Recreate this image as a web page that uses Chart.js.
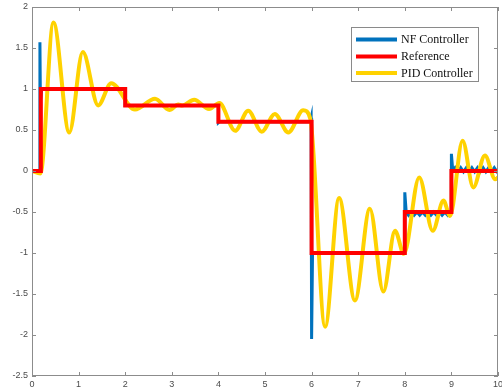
<!DOCTYPE html>
<html>
<head>
<meta charset="utf-8">
<script src="https://cdn.jsdelivr.net/npm/chart.js@4/dist/chart.umd.min.js"></script>
<style>
  html, body { margin: 0; padding: 0; background: #ffffff; }
  #wrap { width: 502px; height: 392px; position: relative; }
</style>
</head>
<body>
<div id="wrap"><canvas id="c" width="502" height="392"></canvas></div>
<script>
// Step reference signal (corner points)
const refT = [0, 0.19, 0.19, 2, 2, 4, 4, 6, 6, 8, 8, 9, 9, 10];
const refV = [0, 0, 1, 1, 0.8, 0.8, 0.6, 0.6, -1, -1, -0.5, -0.5, 0, 0];

// NF controller response: spikes at the set-point changes, chatter afterwards
const nfT = [0, 0.17, 0.17, 0.18, 0.21, 2, 2, 4, 4, 4.02, 5.97, 5.99, 6.0, 6.02,
  8, 8, 8.03,
  8.08, 8.14, 8.2, 8.26, 8.32, 8.38, 8.44, 8.5, 8.56, 8.62, 8.68, 8.74, 8.8, 8.86, 8.92, 8.98,
  9, 9, 9.03,
  9.08, 9.14, 9.2, 9.26, 9.32, 9.38, 9.44, 9.5, 9.56, 9.62, 9.68, 9.74, 9.8, 9.86, 9.92, 9.98, 10];
const nfV = [0, 0, 1.57, 0.86, 1, 1, 0.8, 0.8, 0.59, 0.6, 0.6, 0.65, -2.05, -1,
  -1, -0.26, -0.5,
  -0.54, -0.5, -0.54, -0.5, -0.54, -0.5, -0.54, -0.5, -0.54, -0.5, -0.54, -0.5, -0.54, -0.5, -0.54, -0.5,
  -0.5, 0.21, 0,
  0.04, -0.01, 0.04, -0.01, 0.04, -0.01, 0.04, -0.01, 0.04, -0.01, 0.04, -0.01, 0.04, -0.01, 0.04, -0.01, 0.02];

// PID controller response (turning points of the oscillation)
const pidT = [0, 0.18, 0.46, 0.8, 1.09, 1.42, 1.7, 2.21, 2.64, 2.95, 3.14, 3.22, 3.48, 3.8, 4.02,
  4.36, 4.64, 4.93, 5.21, 5.5, 5.82, 5.97, 6.29, 6.59, 6.93, 7.25, 7.54, 7.79, 7.98,
  8.31, 8.6, 8.83, 8.97, 9.24, 9.47, 9.72, 9.94, 10];
const pidV = [0, -0.03, 1.81, 0.47, 1.45, 0.8, 1.07, 0.75, 0.88, 0.745, 0.81, 0.8, 0.87, 0.755, 0.83,
  0.49, 0.735, 0.48, 0.695, 0.47, 0.74, 0.64, -1.9, -0.33, -1.58, -0.46, -1.47, -0.73, -1.01,
  -0.08, -0.73, -0.36, -0.55, 0.37, -0.2, 0.19, -0.1, -0.08];

// Axis ticks
const xTickValues = [0, 1, 2, 3, 4, 5, 6, 7, 8, 9, 10];
const yTickValues = [-2.5, -2, -1.5, -1, -0.5, 0, 0.5, 1, 1.5, 2];

const seriesNames = ['NF Controller', 'Reference', 'PID Controller'];
const seriesColors = ['#0072BD', '#FF0000', '#FFD200'];

const toPoints = (ts, vs) => ts.map((t, i) => ({ x: t, y: vs[i] }));

// Box around the axes with inward tick marks on all four sides, plus the legend box
const framePlugin = {
  id: 'frame',
  afterDatasetsDraw(chart) {
    const { ctx, chartArea: a, scales } = chart;
    ctx.save();
    ctx.strokeStyle = '#8c8c8c';
    ctx.lineWidth = 1;
    ctx.beginPath();
    const tl = 4;
    scales.x.ticks.forEach(t => {
      const px = Math.round(scales.x.getPixelForValue(t.value)) + 0.5;
      ctx.moveTo(px, a.bottom); ctx.lineTo(px, a.bottom - tl);
      ctx.moveTo(px, a.top); ctx.lineTo(px, a.top + tl);
    });
    scales.y.ticks.forEach(t => {
      const py = Math.round(scales.y.getPixelForValue(t.value)) + 0.5;
      ctx.moveTo(a.left, py); ctx.lineTo(a.left + tl, py);
      ctx.moveTo(a.right, py); ctx.lineTo(a.right - tl, py);
    });
    ctx.stroke();
    ctx.strokeRect(Math.round(a.left) + 0.5, Math.round(a.top) + 0.5,
      Math.round(a.right - a.left) - 1, Math.round(a.bottom - a.top) - 1);

    // legend
    const lx = 351.5, ly = 27.5, lw = 127, lh = 54;
    ctx.fillStyle = '#ffffff';
    ctx.fillRect(lx, ly, lw, lh);
    ctx.strokeStyle = '#8a8a8a';
    ctx.strokeRect(lx, ly, lw, lh);
    const rows = [39.5, 56.5, 73];
    ctx.font = '12px "Liberation Serif", "Times New Roman", serif';
    ctx.textBaseline = 'middle';
    ctx.textAlign = 'left';
    chart.data.datasets.forEach((ds, i) => {
      ctx.strokeStyle = ds.borderColor;
      ctx.lineWidth = 4;
      ctx.beginPath();
      ctx.moveTo(356, rows[i]);
      ctx.lineTo(397, rows[i]);
      ctx.stroke();
      ctx.fillStyle = '#111111';
      ctx.fillText(ds.label, 401, rows[i] + 0.5);
    });
    ctx.restore();
  }
};

const tickFont = { family: '"Liberation Sans", Arial, sans-serif', size: 9 };

new Chart(document.getElementById('c'), {
  type: 'line',
  data: {
    datasets: [
      { label: seriesNames[0], data: toPoints(nfT, nfV), borderColor: seriesColors[0],
        borderWidth: 3, pointRadius: 0, tension: 0, order: 2 },
      { label: seriesNames[1], data: toPoints(refT, refV), borderColor: seriesColors[1],
        borderWidth: 4, pointRadius: 0, tension: 0, order: 0 },
      { label: seriesNames[2], data: toPoints(pidT, pidV), borderColor: seriesColors[2],
        borderWidth: 4, pointRadius: 0, cubicInterpolationMode: 'monotone', order: 1 }
    ]
  },
  options: {
    responsive: false,
    animation: false,
    devicePixelRatio: 1,
    layout: { padding: { top: 7, right: 4, left: 0, bottom: 0 } },
    plugins: { legend: { display: false }, tooltip: { enabled: false } },
    scales: {
      x: {
        type: 'linear', min: 0, max: 10,
        grid: { display: false, drawTicks: false },
        border: { display: false },
        ticks: { font: tickFont, color: '#4a4a4a', padding: 3, maxRotation: 0, autoSkip: false,
          callback: v => String(v) },
        afterBuildTicks: s => { s.ticks = xTickValues.map(v => ({ value: v })); },
        afterFit: s => { s.height = 16; s.paddingLeft = 0; s.paddingRight = 0; }
      },
      y: {
        type: 'linear', min: -2.5, max: 2,
        grid: { display: false, drawTicks: false },
        border: { display: false },
        ticks: { font: tickFont, color: '#4a4a4a', padding: 4, autoSkip: false,
          callback: v => String(v) },
        afterBuildTicks: s => { s.ticks = yTickValues.map(v => ({ value: v })); },
        afterFit: s => { s.width = 32; s.paddingTop = 0; s.paddingBottom = 0; }
      }
    }
  },
  plugins: [framePlugin]
});
</script>
</body>
</html>
